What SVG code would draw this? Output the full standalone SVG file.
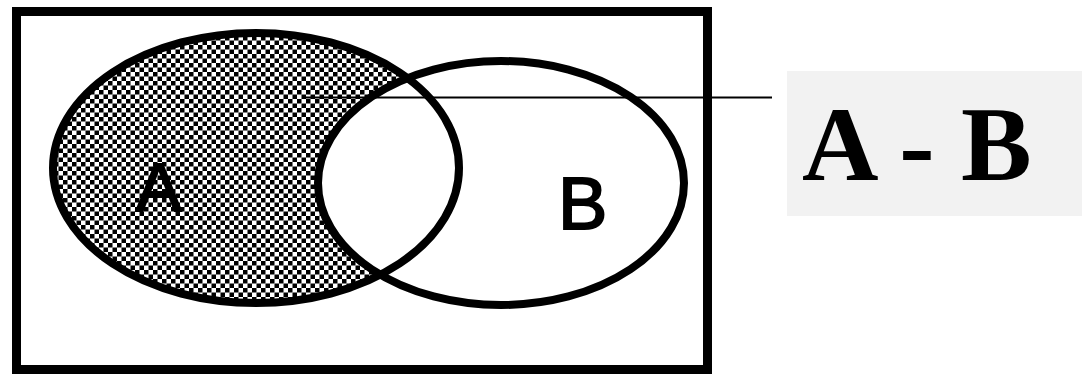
<svg xmlns="http://www.w3.org/2000/svg" width="1082" height="374" viewBox="0 0 1082 374">
<defs>
<pattern id="checker" x="0" y="0" width="9" height="9" patternUnits="userSpaceOnUse">
<rect x="0" y="0" width="9" height="9" fill="#fff"/>
<rect x="0" y="0" width="4.5" height="4.5" fill="#000"/>
<rect x="4.5" y="4.5" width="4.5" height="4.5" fill="#000"/>
</pattern>
</defs>
<style>
.outline{fill:none;stroke:#000;stroke-width:8}
.set{font-family:'Liberation Sans',Arial,sans-serif;fill:#000;stroke:#000;stroke-width:2}
.label{font-family:'Times New Roman',Times,'Liberation Serif',Tinos,'Nimbus Roman','Nimbus Roman No9 L',serif;font-weight:bold;font-size:106px;fill:#000}
</style>
<rect width="1082" height="374" fill="#fff"/>
<g id="universe">
<rect x="16.5" y="11.5" width="691" height="358" fill="none" stroke="#000" stroke-width="9"/>
</g>
<g id="setA-fill">
<ellipse cx="256" cy="168" rx="203" ry="135" fill="url(#checker)"/>
</g>
<g id="setB-fill">
<ellipse cx="501" cy="183" rx="183" ry="122" fill="#fff"/>
</g>
<g id="setA">
<ellipse class="outline" cx="256" cy="168" rx="203" ry="135"/>
<text class="set" x="136" y="211" font-size="68">A</text>
</g>
<g id="setB">
<ellipse class="outline" cx="501" cy="183" rx="183" ry="122"/>
<text class="set" x="558" y="229" font-size="74">B</text>
</g>
<g id="connectors">
<line x1="305" y1="97.5" x2="772" y2="97.5" stroke="#000" stroke-width="2"/>
</g>
<g id="result">
<rect x="787" y="71" width="295" height="145" fill="#f2f2f2"/>
<text class="label" x="802" y="180">A - B</text>
</g>
</svg>
